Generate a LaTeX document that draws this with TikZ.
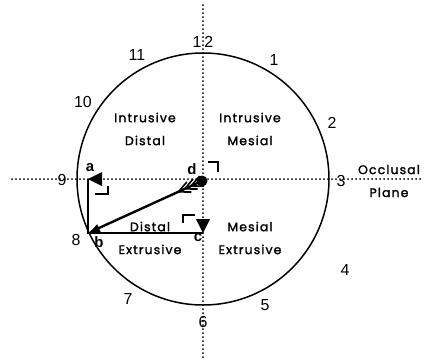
\documentclass[tikz,border=0pt]{standalone}
\usepackage{fontspec}
\setmainfont{Liberation Sans}
\newfontfamily\regfont[LetterSpace=9,FakeBold=1.6]{Poppins}
\usetikzlibrary{arrows.meta,calc}
\begin{document}
\begin{tikzpicture}[x=1bp,y=-1bp,
  dotline/.style={line width=2bp, dash pattern=on 0bp off 4bp, line cap=round},
  num/.style={font=\fontsize{16}{16}\selectfont, inner sep=0},
  region/.style={font=\regfont\fontsize{12.5}{23}\selectfont, align=center, inner sep=0},
  ptlab/.style={font=\bfseries\fontsize{15}{15}\selectfont, inner sep=0},
  rmark/.style={line width=1.6bp},
  solidline/.style={line width=1.7bp}]
\useasboundingbox (0,0) rectangle (426,361);
% axes
\coordinate (vtop) at (203,5);
\coordinate (vbot) at (203,361);
\coordinate (hl) at (12,179);
\coordinate (hr) at (424,179);
\draw[dotline] (vtop) -- (vbot);
\draw[dotline] (hl) -- (hr);
% circle
\coordinate (O) at (203,179);
\draw[line width=1.5bp] (O) circle (126);
% points
\coordinate (d) at (202,181);
\coordinate (a) at (88,179);
\coordinate (b) at (88,233);
\coordinate (c) at (203,233);
\fill (d) circle (5.5);
\draw[solidline] (a) -- (b) -- (c);
\draw[line width=2.4bp, -{Latex[length=12bp,width=9bp]}] (d) -- (b);
% fletching
\draw[line width=1.6bp]
  (204.1,186.1) -- (191.1,186.0) -- (199.5,176.1)
  (197.7,189.0) -- (184.7,188.9) -- (193.1,179.0)
  (191.4,192.0) -- (178.4,191.9) -- (186.8,182.0);
% arrowheads
\fill (a) -- (102,172) -- (102,186) -- cycle;
\fill (c) -- (196,219) -- (210,219) -- cycle;
% right-angle marks
\draw[rmark] (95,194) -- (108,194) -- (108,186);
\draw[rmark] (208,162) -- (218,162) -- (218,172);
\draw[rmark] (183,223) -- (183,215) -- (195,215);
% point labels
\node[ptlab] (la) at (90,168) {a};
\node[ptlab] (lb) at (99,242) {b};
\node[ptlab] (lc) at (198,238) {c};
\node[ptlab] (ld) at (192,169) {d};
% clock numbers
\node[num] (n12) at (203,42) {1\hspace{3bp}2};
\node[num] (n1) at (274,60) {1};
\node[num] (n2) at (332,123) {2};
\node[num] (n3) at (341,181) {3};
\node[num] (n4) at (345,270) {4};
\node[num] (n5) at (265,305) {5};
\node[num] (n6) at (203,322) {6};
\node[num] (n7) at (128,299) {7};
\node[num] (n8) at (76,240) {8};
\node[num] (n9) at (62,180) {9};
\node[num] (n10) at (83,102) {10};
\node[num] (n11) at (137,55) {11};
% regions
\node[region] (id) at (145,129) {Intrusive\\Distal};
\node[region] (im) at (250,129) {Intrusive\\Mesial};
\node[region] (de) at (150,238) {Distal\\Extrusive};
\node[region] (me) at (250,238) {Mesial\\Extrusive};
\node[region] (op) at (389,181) {Occlusal\\Plane};
\end{tikzpicture}
\end{document}
